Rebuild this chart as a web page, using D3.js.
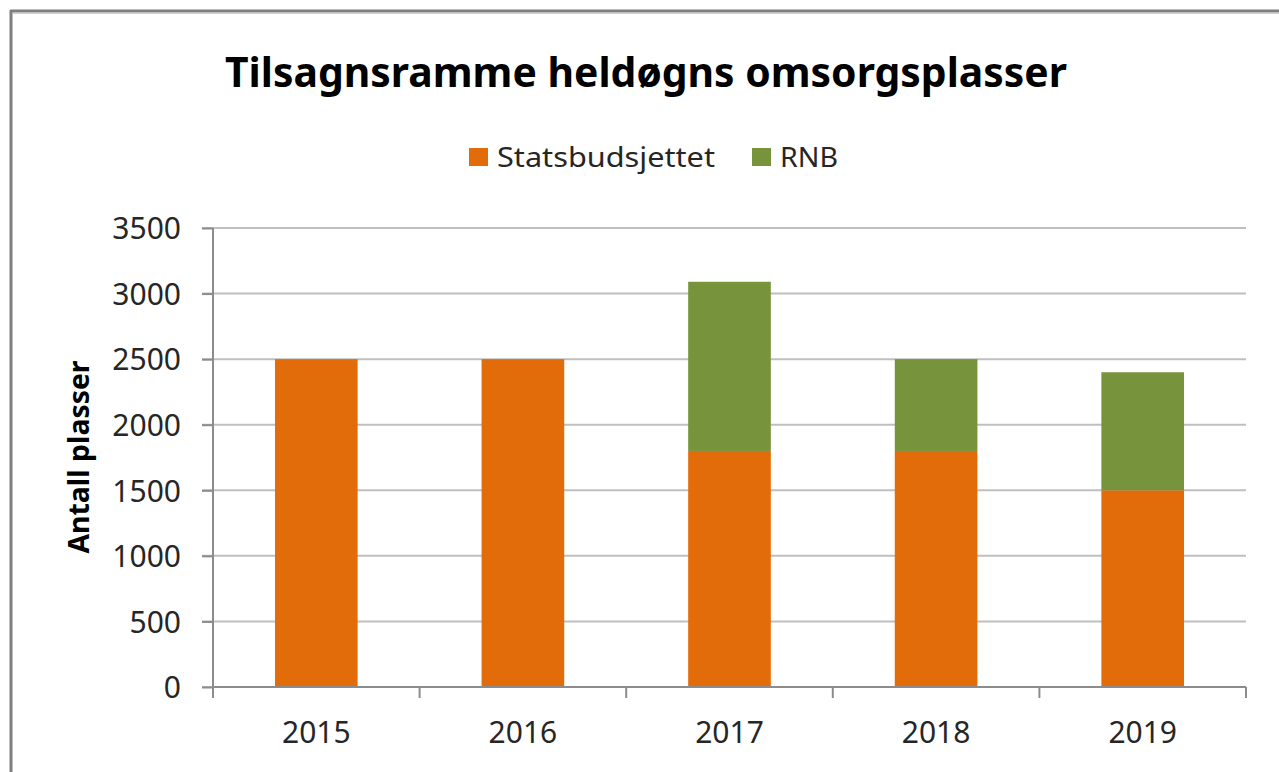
<!DOCTYPE html>
<html>
<head>
<meta charset="utf-8" />
<title>Tilsagnsramme heldøgns omsorgsplasser</title>
<script src="https://cdn.jsdelivr.net/npm/d3@7"></script>
<style>
  body { margin: 0; background: #fff; }
  svg text { font-family: "Noto Sans", "Open Sans", sans-serif; fill: #262626; }
  .grid line { stroke: #bfbfbf; stroke-width: 2px; }
  .axis line, .axis path { stroke: #8c8c8c; stroke-width: 2px; }
</style>
</head>
<body>
<div id="chart"></div>
<script>
// data
var years = ["2015", "2016", "2017", "2018", "2019"];
var statsbudsjettet = [2500, 2500, 1800, 1800, 1500];
var rnb = [0, 0, 1290, 700, 900];
var seriesNames = ["Statsbudsjettet", "RNB"];
var colors = ["#e36c0a", "#77933c"];
var yTicks = [0, 500, 1000, 1500, 2000, 2500, 3000, 3500];

var width = 1279, height = 772;
var plot = {left: 213, right: 1246, top: 228, bottom: 687};

var svg = d3.select("#chart").append("svg")
    .attr("width", width)
    .attr("height", height);

// frame of the chart (top + left edge)
svg.append("line").attr("x1", 10).attr("x2", width).attr("y1", 11).attr("y2", 11)
    .attr("stroke", "#7f7f7f").attr("stroke-width", 3);
svg.append("line").attr("x1", 11).attr("x2", 11).attr("y1", 10).attr("y2", height)
    .attr("stroke", "#7f7f7f").attr("stroke-width", 3);
svg.append("line").attr("x1", 13).attr("x2", width).attr("y1", 13.5).attr("y2", 13.5)
    .attr("stroke", "#d0d0d0").attr("stroke-width", 1);

var x = d3.scaleBand()
    .domain(years)
    .range([plot.left, plot.right])
    .paddingInner(0.6)
    .paddingOuter(0.3);

var y = d3.scaleLinear()
    .domain([0, 3500])
    .range([plot.bottom, plot.top]);

// gridlines
svg.append("g").attr("class", "grid")
  .selectAll("line")
  .data(yTicks)
  .enter().append("line")
    .attr("x1", plot.left - 11)
    .attr("x2", plot.right)
    .attr("y1", function(d) { return y(d); })
    .attr("y2", function(d) { return y(d); });

// y axis
var yAxis = svg.append("g").attr("class", "axis")
    .attr("transform", "translate(" + plot.left + ",0)")
    .call(d3.axisLeft(y).tickValues(yTicks).tickFormat(d3.format("d"))
      .tickSize(11).tickPadding(21).tickSizeOuter(0));
yAxis.select(".domain").attr("d", "M0," + plot.top + "V" + (plot.bottom + 11));
yAxis.selectAll("text").style("font-size", "30px").attr("dy", "0.36em");

// stacked bars
var rows = years.map(function(yr, i) {
  return {year: yr, Statsbudsjettet: statsbudsjettet[i], RNB: rnb[i]};
});
var stack = d3.stack().keys(seriesNames)(rows);

svg.append("g").selectAll("g")
  .data(stack)
  .enter().append("g")
    .attr("fill", function(d, i) { return colors[i]; })
  .selectAll("rect")
  .data(function(d) { return d; })
  .enter().append("rect")
    .attr("x", function(d) { return x(d.data.year); })
    .attr("width", x.bandwidth())
    .attr("y", function(d) { return y(d[1]); })
    .attr("height", function(d) { return y(d[0]) - y(d[1]); });

// x axis (ticks between the categories)
var xAxis = svg.append("g").attr("class", "axis");
xAxis.append("line")
    .attr("x1", plot.left).attr("x2", plot.right)
    .attr("y1", plot.bottom).attr("y2", plot.bottom);
var bounds = years.map(function(d) { return x(d) - x.step() * 0.3; }).concat([plot.right]);
xAxis.selectAll("line.tick")
  .data(bounds)
  .enter().append("line")
    .attr("class", "tick")
    .attr("x1", function(d) { return d; })
    .attr("x2", function(d) { return d; })
    .attr("y1", plot.bottom)
    .attr("y2", plot.bottom + 11);
xAxis.selectAll("text")
  .data(years)
  .enter().append("text")
    .attr("x", function(d) { return x(d) + x.bandwidth() / 2; })
    .attr("y", 743)
    .attr("text-anchor", "middle")
    .style("font-size", "30px")
    .text(function(d) { return d; });

// title
svg.append("text")
    .attr("x", 646)
    .attr("y", 87)
    .attr("text-anchor", "middle")
    .style("font-size", "42px")
    .style("font-weight", "bold")
    .style("fill", "#000")
    .attr("textLength", 842)
    .attr("lengthAdjust", "spacingAndGlyphs")
    .text("Tilsagnsramme heldøgns omsorgsplasser");

// legend
var legendX = [469, 752];
var legendW = [218, 58];
var legend = svg.append("g");
legend.selectAll("rect")
  .data(seriesNames)
  .enter().append("rect")
    .attr("x", function(d, i) { return legendX[i]; })
    .attr("y", 148)
    .attr("width", 19)
    .attr("height", 18)
    .attr("fill", function(d, i) { return colors[i]; });
legend.selectAll("text")
  .data(seriesNames)
  .enter().append("text")
    .attr("x", function(d, i) { return legendX[i] + 28; })
    .attr("y", 167)
    .style("font-size", "28px")
    .attr("textLength", function(d, i) { return legendW[i]; })
    .attr("lengthAdjust", "spacingAndGlyphs")
    .text(function(d) { return d; });

// y axis title
svg.append("text")
    .attr("transform", "translate(89,457) rotate(-90)")
    .attr("text-anchor", "middle")
    .style("font-size", "28px")
    .style("font-weight", "bold")
    .style("fill", "#000")
    .attr("textLength", 193)
    .attr("lengthAdjust", "spacingAndGlyphs")
    .text("Antall plasser");
</script>
</body>
</html>
